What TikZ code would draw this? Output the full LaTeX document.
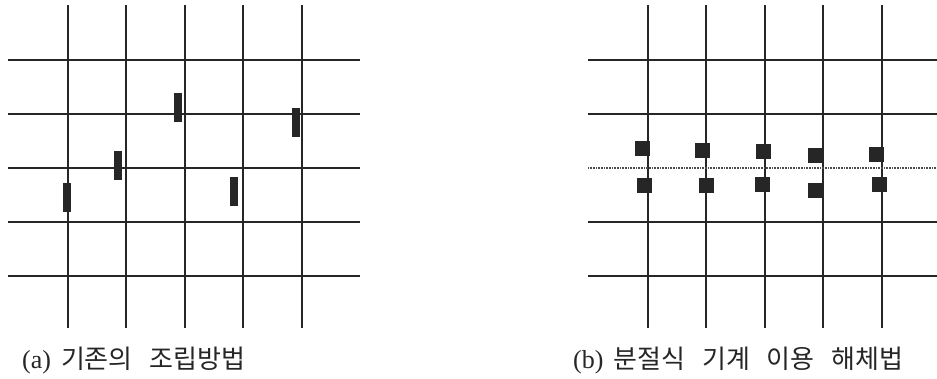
\documentclass[tikz,border=0pt]{standalone}
\usepackage{fontspec}
\setmainfont{Liberation Serif}
\newfontfamily\kr[WordSpace=2.9]{Noto Sans CJK KR}
\begin{document}
\begin{tikzpicture}[x=1pt,y=-1pt,
  gridline/.style={line width=1.3pt, draw=black!85},
  dotline/.style={line width=1.2pt, draw=black!70, dash pattern=on 0.8pt off 0.8pt},
  blk/.style={fill=black!85, draw=none, inner sep=0pt, minimum width=8pt, minimum height=29pt},
  sq/.style={fill=black!85, draw=none, inner sep=0pt, minimum size=15pt},
  captext/.style={anchor=west, inner sep=0pt, text=black!85, font=\fontsize{26}{30}\selectfont}]
\useasboundingbox (0,0) rectangle (937,379);
% (a) grid
\foreach \x in {68,126,185,243,302} \draw[gridline] (\x,5) -- (\x,328);
\foreach \y in {60,114,168,222,276} \draw[gridline] (8,\y) -- (360,\y);
\node[blk] (a1) at (67,197.5) {};
\node[blk] (a2) at (118,165.5) {};
\node[blk] (a3) at (178,108) {};
\node[blk] (a4) at (234,192) {};
\node[blk] (a5) at (296,123) {};
% (b) grid
\foreach \x in {648,706,765,823,882} \draw[gridline] (\x,5) -- (\x,328);
\foreach \y in {60,114,222,276} \draw[gridline] (588,\y) -- (937,\y);
\draw[dotline] (588,168) -- (937,168);
\node[sq] (t1) at (642.5,148.5) {};
\node[sq] (t2) at (702.5,150.5) {};
\node[sq] (t3) at (763.5,152) {};
\node[sq] (t4) at (815,155.5) {};
\node[sq] (t5) at (876.5,154.5) {};
\node[sq] (u1) at (644.5,185.5) {};
\node[sq] (u2) at (706.5,185.5) {};
\node[sq] (u3) at (762.5,184.5) {};
\node[sq] (u4) at (815.5,190.5) {};
\node[sq] (u5) at (879.5,185) {};
% captions
\node[captext] (capa) at (22,361) {(a)\hspace{10pt}{\kr 기존의 조립방법}};
\node[captext] (capb) at (573,361) {(b)\hspace{10pt}{\kr 분절식 기계 이용 해체법}};
\end{tikzpicture}
\end{document}
